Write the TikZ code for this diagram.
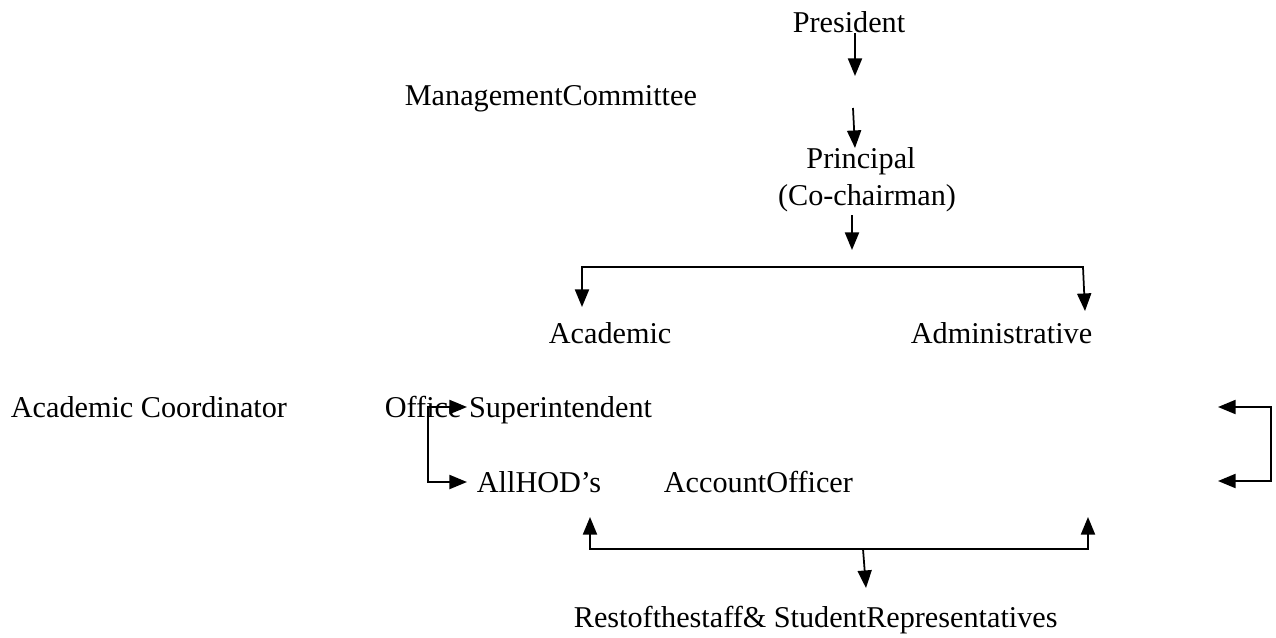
\documentclass[tikz,border=0pt]{standalone}
\usepackage{fontspec}
\setmainfont{Liberation Serif}
\usetikzlibrary{arrows.meta}
\begin{document}
\begin{tikzpicture}[x=0.02cm,y=-0.02cm,>={Triangle[length=10pt,width=8pt]},
  line width=1pt,
  main node/.style={inner sep=0pt,anchor=base west,font=\fontsize{17.2}{21}\selectfont}]
  \useasboundingbox (0,0) rectangle (1276,637);
  \node[main node,anchor=base] (pres) at (849,32) {President};
  \node[main node] (mc) at (404,105) {ManagementCommittee};
  \node[main node,anchor=base] (prin) at (861,168) {Principal};
  \node[main node,anchor=base] (cochair) at (867,205) {(Co-chairman)};
  \node[main node] (acad) at (548,343) {Academic};
  \node[main node] (admin) at (910,343) {Administrative};
  \node[main node] (coord) at (10,417) {Academic Coordinator};
  \node[main node] (osup) at (384,417) {Office Superintendent};
  \node[main node] (hod) at (476,492) {AllHOD's};
  \node[main node] (acc) at (663,492) {AccountOfficer};
  \node[main node] (rest) at (573,627) {Restofthestaff\& StudentRepresentatives};

  % free ends
  \coordinate (p1) at (855,76);
  \coordinate (p2) at (853,108);
  \coordinate (p3) at (852,250);
  \coordinate (l1) at (428,407);
  \coordinate (l2) at (428,482);
  \coordinate (r1) at (1218,407);
  \coordinate (r2) at (1218,481);

  \draw[->] (855,33) -- (p1);
  \draw[->] (p2) -- (855,148);
  \draw[->] (852,215) -- (p3);
  \draw[<->] (582,307) -- (582,267) -- (1083,267) -- (1085,311);
  \draw[<->] (467,407) -- (l1) -- (l2) -- (467,482);
  \draw[<->] (r1) -- (1271,407) -- (1271,481) -- (r2);
  \draw[<->] (590,517) -- (590,549) -- (1088,549) -- (1088,517);
  \draw[->] (863,549) -- (866,588);
\end{tikzpicture}
\end{document}
